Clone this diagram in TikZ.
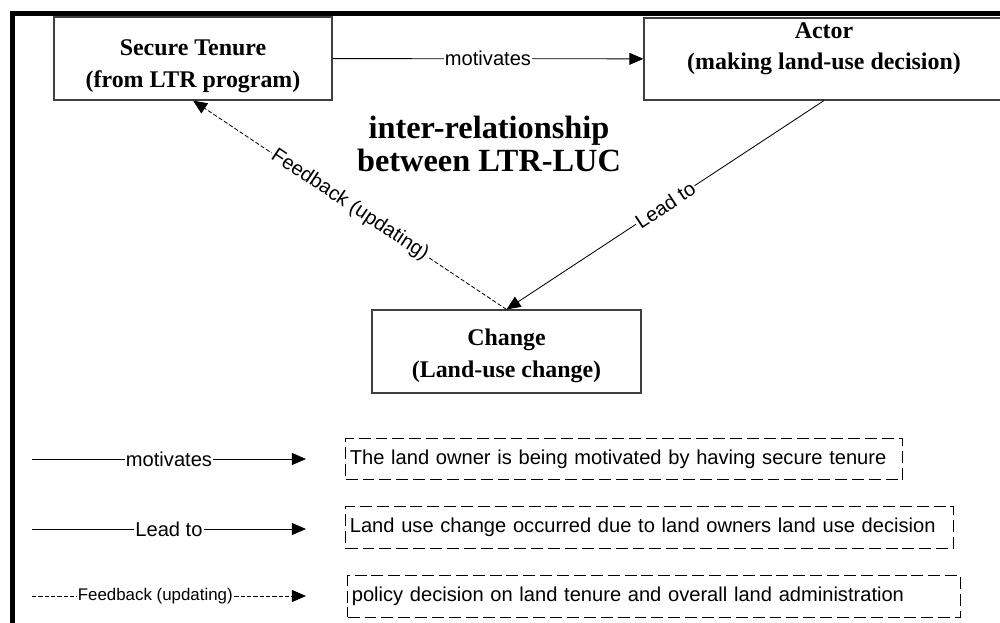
\documentclass[tikz,border=0pt]{standalone}
\usepackage{fontspec}
\setmainfont{Liberation Serif}
\newfontfamily\arialfont{Liberation Sans}
\usepackage{tikz}
\usetikzlibrary{shapes,arrows.meta,positioning}

\begin{document}
\begin{tikzpicture}[
    x=0.025cm, y=-0.025cm,
    mainbox/.style={rectangle, draw=black!75, line width=0.8pt, align=center,
        inner ysep=0pt, font=\bfseries\fontsize{17}{23}\selectfont},
    legbox/.style={rectangle, draw, line width=0.9pt, dash pattern=on 8.5pt off 3.5pt,
        anchor=west, inner xsep=3pt, align=left, minimum height=1.04cm,
        font=\arialfont\fontsize{14.3}{16}\selectfont},
    lbl/.style={fill=white, inner sep=1pt, font=\arialfont\fontsize{14.3}{16}\selectfont},
    arr/.style={-{Triangle[length=10pt,width=8.5pt]}, line width=0.6pt},
    fbarr/.style={arr, dash pattern=on 3pt off 1.5pt}
]
\useasboundingbox (0,0) rectangle (1000,623);
\clip (0,0) rectangle (1000,623);

% frame
\draw[line width=3.5pt] (12.5,650) -- (12.5,13.5) -- (1030,13.5);

% main boxes
\node[mainbox, minimum width=6.95cm, minimum height=2.075cm] (tenure) at (193,58.5)
    {\mbox{}\\[-1pt]Secure Tenure\\(from LTR program)};
\node[mainbox, minimum width=9cm, minimum height=2.05cm] (actor) at (824,59)
    {Actor\\[-1pt](making land-use decision)\\[-5pt]\mbox{}};
\node[mainbox, minimum width=6.725cm, minimum height=2.075cm] (change) at (506.5,351.5)
    {\mbox{}\\[-5pt]Change\\(Land-use change)};
\node[align=center, font=\bfseries\fontsize{23}{23}\selectfont] (title) at (489,144)
    {inter-relationship\\between LTR-LUC};

% connectors
\draw[arr] (tenure) -- node[lbl] {motivates} (actor);
\draw[arr] (actor.south) -- node[lbl, sloped] {Lead to} (change.north);
\draw[fbarr] (change.north) -- node[lbl, sloped] {Feedback (updating)} (tenure.south);

% legend
\coordinate (mot0) at (32,459);
\coordinate (mot1) at (306,459);
\coordinate (lead0) at (32,529);
\coordinate (lead1) at (306,529);
\coordinate (fb0) at (32,596);
\coordinate (fb1) at (306,596);
\draw[arr] (mot0) -- node[lbl] {motivates} (mot1);
\draw[arr] (lead0) -- node[lbl] {Lead to} (lead1);
\draw[fbarr] (fb0) -- node[lbl, pos=0.45, font=\arialfont\fontsize{12}{14}\selectfont] {Feedback (updating)} (fb1);
\node[legbox, text width=13.71cm] (motbox) at (345,459)
    {The land owner is being motivated by having secure tenure};
\node[legbox, text width=14.99cm] (leadbox) at (345,527.5)
    {Land use change occurred due to land owners land use decision};
\node[legbox, text width=15.11cm] (fbbox) at (347,596.5)
    {policy decision on land tenure and overall land administration};
\end{tikzpicture}
\end{document}
